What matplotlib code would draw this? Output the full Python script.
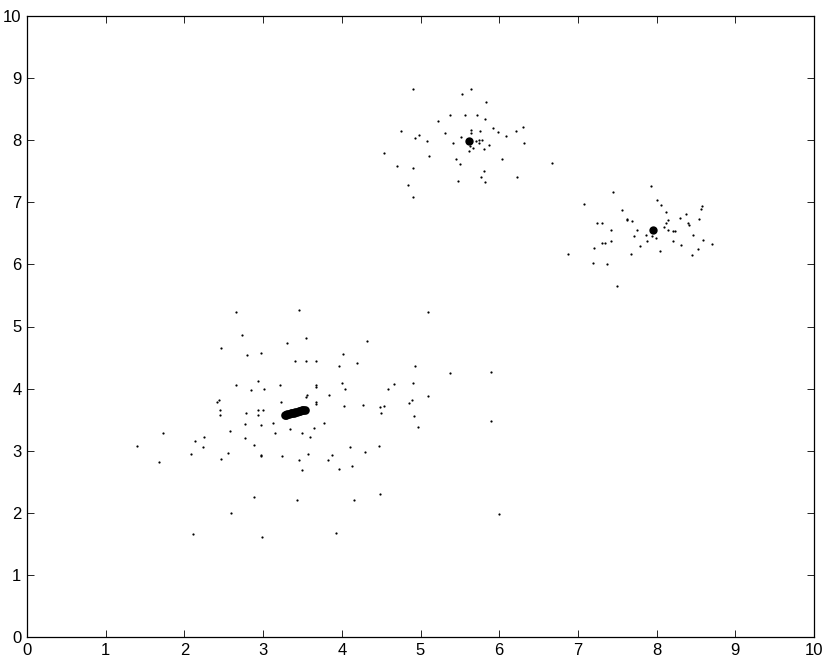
import matplotlib
matplotlib.use('Agg')
import matplotlib.pyplot as plt

plt.rcParams['font.family'] = ['Liberation Sans', 'DejaVu Sans']

# cluster A (top)
top_x = [4.90, 5.64, 5.53, 5.83, 5.37, 5.57, 5.72, 5.82, 5.22, 4.75,
         5.31, 5.64, 5.64, 5.76, 5.92, 5.98, 6.21, 6.30, 4.98, 4.93,
         5.08, 5.52, 6.09, 5.41, 5.70, 5.74, 5.78, 5.74, 5.87, 6.32,
         5.63, 5.67, 5.81, 5.61, 4.53, 5.11, 5.45, 6.03, 5.50, 6.67,
         4.70, 4.91, 5.81, 5.77, 6.22, 5.48, 5.82, 4.84, 4.90]
top_y = [8.83, 8.83, 8.75, 8.61, 8.41, 8.40, 8.40, 8.34, 8.31, 8.15,
         8.12, 8.17, 8.12, 8.15, 8.20, 8.13, 8.15, 8.22, 8.08, 8.03,
         7.98, 8.05, 8.06, 7.95, 7.99, 8.00, 8.00, 7.95, 7.93, 7.95,
         7.90, 7.88, 7.86, 7.83, 7.80, 7.74, 7.69, 7.70, 7.61, 7.63,
         7.59, 7.56, 7.51, 7.41, 7.41, 7.34, 7.32, 7.28, 7.09]

# cluster B (right)
right_x = [7.93, 7.45, 8.00, 7.08, 8.06, 8.58, 8.56, 7.56, 8.12, 8.37,
           8.30, 8.54, 7.63, 7.62, 7.69, 8.14, 7.24, 7.30, 8.12, 8.40,
           8.41, 8.10, 7.75, 7.42, 8.15, 8.21, 8.23, 7.87, 8.46, 7.71,
           7.94, 7.99, 8.59, 7.88, 7.42, 8.21, 7.34, 7.31, 8.70, 8.31,
           7.79, 7.20, 8.53, 8.04, 7.67, 8.45, 6.87, 7.19, 7.37, 7.50]
right_y = [7.27, 7.17, 7.03, 6.97, 6.95, 6.94, 6.90, 6.87, 6.84, 6.81,
           6.74, 6.73, 6.73, 6.71, 6.70, 6.72, 6.67, 6.67, 6.66, 6.66,
           6.64, 6.61, 6.56, 6.56, 6.55, 6.54, 6.53, 6.48, 6.48, 6.45,
           6.45, 6.43, 6.40, 6.37, 6.37, 6.38, 6.35, 6.34, 6.33, 6.32,
           6.29, 6.26, 6.25, 6.22, 6.16, 6.15, 6.17, 6.02, 6.00, 5.66]

# cluster C (lower left)
low_x = [2.66, 3.45, 2.73, 3.54, 2.47, 3.30, 2.80, 2.97, 3.40, 3.54,
         3.67, 2.94, 2.66, 2.85, 3.01, 3.22, 3.67, 3.67, 2.44, 2.41,
         3.56, 3.54, 3.23, 3.67, 3.67, 2.45, 2.45, 2.78, 2.94, 3.00,
         2.94, 5.09, 4.32, 4.02, 4.19, 3.96, 4.93, 5.37, 5.90, 4.00,
         4.04, 4.66, 4.59, 4.90, 3.84, 5.10, 4.03, 4.27, 4.48, 4.53,
         4.89, 4.85, 4.50, 4.92, 2.77, 2.97, 3.13, 3.34, 3.50, 3.65,
         3.77, 3.59, 1.73, 2.25, 2.14, 2.58, 2.77, 3.15, 1.40, 2.24,
         2.89, 2.09, 2.56, 2.47, 2.97, 2.97, 3.24, 3.57, 3.46, 1.68,
         3.49, 2.88, 3.43, 2.59, 2.11, 2.99, 4.97, 5.90, 4.10, 4.47,
         4.30, 3.88, 3.82, 4.13, 3.96, 4.49, 4.16, 6.00, 3.93]
low_y = [5.24, 5.27, 4.86, 4.82, 4.66, 4.73, 4.54, 4.58, 4.45, 4.44,
         4.45, 4.13, 4.06, 3.98, 3.99, 4.06, 4.05, 4.02, 3.82, 3.79,
         3.90, 3.86, 3.79, 3.79, 3.76, 3.66, 3.58, 3.61, 3.65, 3.66,
         3.57, 5.23, 4.76, 4.56, 4.42, 4.36, 4.36, 4.25, 4.27, 4.09,
         3.99, 4.07, 4.00, 4.09, 3.89, 3.88, 3.72, 3.73, 3.71, 3.72,
         3.81, 3.77, 3.60, 3.56, 3.43, 3.42, 3.44, 3.35, 3.28, 3.37,
         3.45, 3.22, 3.28, 3.22, 3.16, 3.31, 3.21, 3.28, 3.07, 3.06,
         3.09, 2.94, 2.97, 2.87, 2.93, 2.91, 2.92, 2.94, 2.85, 2.82,
         2.69, 2.26, 2.20, 2.00, 1.66, 1.61, 3.38, 3.48, 3.06, 3.08,
         2.98, 2.93, 2.85, 2.76, 2.70, 2.31, 2.21, 1.98, 1.67]

# centroids
cent_x = [5.61, 7.96]
cent_y = [7.99, 6.56]
# centroid of cluster C moving over the iterations
trail_x = [3.28, 3.29, 3.31, 3.33, 3.35, 3.37, 3.39, 3.41, 3.43, 3.45,
           3.47, 3.49, 3.51, 3.53]
trail_y = [3.57, 3.58, 3.59, 3.595, 3.60, 3.61, 3.615, 3.62, 3.63, 3.635,
           3.64, 3.65, 3.655, 3.66]

fig = plt.figure(figsize=(8.3, 6.65), dpi=100)
ax = fig.add_axes([27/830, 28/665, 787/830, 621/665])

for xs, ys in [(top_x, top_y), (right_x, right_y), (low_x, low_y)]:
    ax.plot(xs, ys, 'o', color='k', markersize=1.6, markeredgewidth=0)

ax.plot(trail_x, trail_y, 'o', color='k', markersize=6.2, markeredgewidth=0)
ax.plot(cent_x, cent_y, 'o', color='k', markersize=6, markeredgewidth=0)

ax.set_xlim(0, 10)
ax.set_ylim(0, 10)
ax.set_xticks(range(11))
ax.set_yticks(range(11))
ax.tick_params(direction='in', length=5, width=0.6, top=True, right=True,
               labelsize=12, pad=4)
for s in ax.spines.values():
    s.set_linewidth(0.9)

plt.savefig('out.png', dpi=100)
